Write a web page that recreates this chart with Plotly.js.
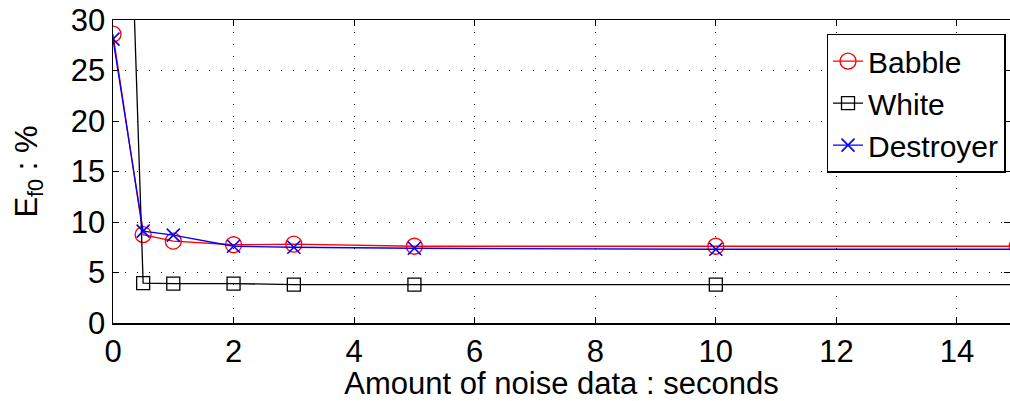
<!DOCTYPE html>
<html>
<head>
<meta charset="utf-8">
<script src="https://cdn.plot.ly/plotly-3.0.1.min.js"></script>
<style>html,body{margin:0;padding:0;background:#fff;}#chart{width:1010px;height:401px;}</style>
</head>
<body>
<div id="chart"></div>
<script>
const xSeconds = [0, 0.5, 1, 2, 3, 5, 10, 15];
const babble = [28.6, 8.75, 8.1, 7.75, 7.8, 7.6, 7.6, 7.6];
const white = [95, 3.95, 3.9, 3.9, 3.8, 3.8, 3.8, 3.8];
const destroyer = [28.1, 9.1, 8.7, 7.6, 7.5, 7.4, 7.3, 7.3];
const seriesNames = ['Babble', 'White', 'Destroyer'];
const xTicks = [0, 2, 4, 6, 8, 10, 12, 14];
const yTicks = [0, 5, 10, 15, 20, 25, 30];

const font = 'Liberation Sans, Arial, Helvetica, sans-serif';
const traces = [
  {x: xSeconds, y: babble, name: seriesNames[0], mode: 'lines+markers',
   line: {color: '#ff0000', width: 1.3},
   marker: {symbol: 'circle-open', size: 16, color: '#ff0000', line: {width: 1.3}}},
  {x: xSeconds, y: white, name: seriesNames[1], mode: 'lines+markers',
   line: {color: '#000000', width: 1.3},
   marker: {symbol: 'square-open', size: 13, color: '#000000', line: {width: 1.3}}},
  {x: xSeconds, y: destroyer, name: seriesNames[2], mode: 'lines+markers',
   line: {color: '#0000ff', width: 1.3},
   marker: {symbol: 'x-thin-open', size: 13, color: '#0000ff', line: {width: 1.6, color: '#0000ff'}}}
];

const axisCommon = {
  showline: true, linecolor: '#000', linewidth: 1.5, mirror: 'ticks',
  ticks: 'inside', ticklen: 6, tickwidth: 1, tickcolor: '#000',
  showgrid: true, gridcolor: '#000', griddash: '1px,11px', gridwidth: 1,
  zeroline: false, tickfont: {family: font, size: 31, color: '#000'}
};

const layout = {
  width: 1010, height: 401,
  margin: {l: 113, r: 0, t: 20, b: 78},
  paper_bgcolor: '#fff', plot_bgcolor: '#fff',
  showlegend: true,
  legend: {x: 0.995, y: 0.955, xanchor: 'right', yanchor: 'top',
    bgcolor: '#fff', bordercolor: '#000', borderwidth: 1.5,
    font: {family: font, size: 30, color: '#000'}, tracegroupgap: 0},
  xaxis: Object.assign({}, axisCommon, {
    range: [0, 14.88], tickvals: xTicks, ticktext: xTicks.map(String),
    title: {text: 'Amount of noise data : seconds', font: {family: font, size: 31, color: '#000'}, standoff: 0}
  }),
  yaxis: Object.assign({}, axisCommon, {
    range: [0, 30], tickvals: yTicks, ticktext: yTicks.map(String),
    title: {text: 'E<sub>f0</sub> : %', font: {family: font, size: 31, color: '#000'}, standoff: 24}
  })
};

Plotly.newPlot('chart', traces, layout, {displayModeBar: false, staticPlot: true});
</script>
</body>
</html>
